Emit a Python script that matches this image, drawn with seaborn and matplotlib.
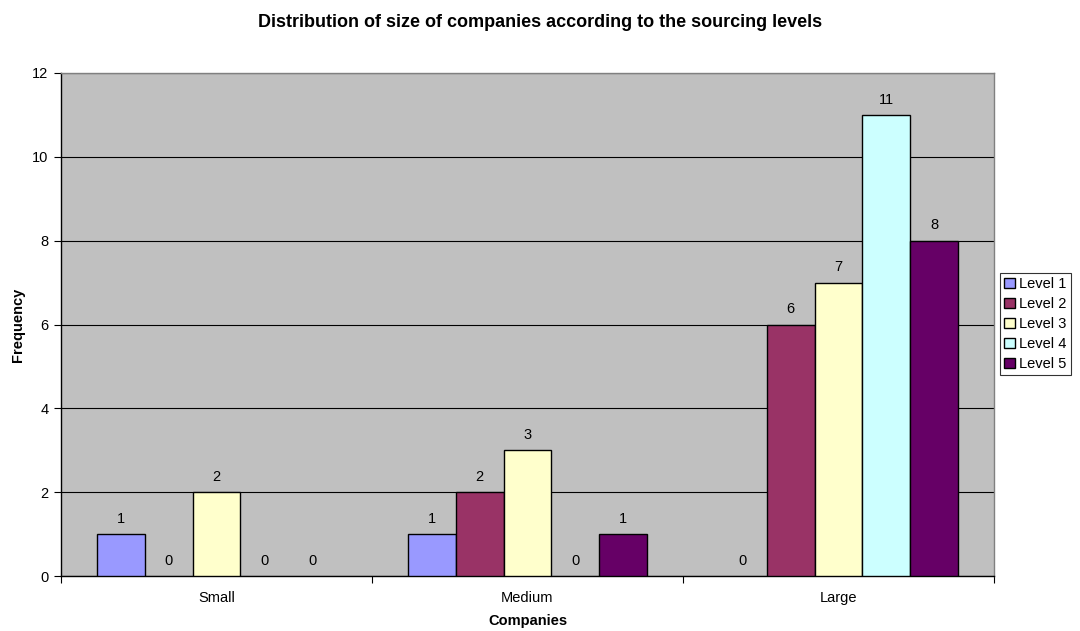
import matplotlib
matplotlib.use("Agg")
import matplotlib.pyplot as plt
import seaborn as sns
import pandas as pd
from matplotlib.ticker import FixedLocator

# Company sizes and counts per sourcing level
companies = ["Small", "Medium", "Large"]
levels = ["Level 1", "Level 2", "Level 3", "Level 4", "Level 5"]
level1 = [1, 1, 0]
level2 = [0, 2, 6]
level3 = [2, 3, 7]
level4 = [0, 0, 11]
level5 = [0, 1, 8]
level_colors = ["#9999FF", "#993366", "#FFFFCC", "#CCFFFF", "#660066"]
y_ticks = [0, 2, 4, 6, 8, 10, 12]

series = [level1, level2, level3, level4, level5]
df = pd.DataFrame({
    "Companies": [c for _ in levels for c in companies],
    "Level": [lv for lv in levels for _ in companies],
    "Frequency": [v for s in series for v in s],
})

sns.set_theme(style="white")
plt.rcParams["font.family"] = ["Liberation Sans", "DejaVu Sans"]
plt.rcParams.update({"text.color": "black", "axes.labelcolor": "black",
                     "xtick.color": "black", "ytick.color": "black"})

fig = plt.figure(figsize=(10.8, 6.31), dpi=100)
ax = fig.add_axes([61 / 1080, 1 - 576 / 631, 933 / 1080, 503 / 631])
ax.set_facecolor("#C0C0C0")

sns.barplot(data=df, x="Companies", y="Frequency", hue="Level",
            order=companies, hue_order=levels, palette=level_colors,
            width=0.77, gap=0, edgecolor="black", linewidth=1.0,
            saturation=1, ax=ax, zorder=3, legend=True)

for cont in ax.containers:
    for b in cont:
        if b.get_height() == 0:
            b.set_linewidth(0)
    ax.bar_label(cont, labels=[f"{int(b.get_height())}" for b in cont],
                 padding=6, fontsize=10.5, color="black")

ax.set_ylim(0, 12)
ax.set_xlim(-0.5, 2.5)
ax.yaxis.set_major_locator(FixedLocator(y_ticks))
ax.grid(axis="y", color="black", linewidth=0.8, zorder=1)
ax.set_axisbelow(True)

# category boundary ticks on the x axis
ax.xaxis.set_minor_locator(FixedLocator([-0.5, 0.5, 1.5, 2.5]))
ax.tick_params(axis="x", which="major", length=0, pad=11, labelsize=10.5,
               labelcolor="black")
ax.tick_params(axis="x", which="minor", length=5, width=0.8, color="black",
               bottom=True, direction="out")
ax.tick_params(axis="y", length=5, width=0.8, color="black", left=True,
               direction="out", labelsize=10.5, pad=4, labelcolor="black")

for side in ["top", "right"]:
    ax.spines[side].set_color("#808080")
    ax.spines[side].set_linewidth(1.0)
for side in ["left", "bottom"]:
    ax.spines[side].set_color("black")
    ax.spines[side].set_linewidth(1.0)

ax.set_xlabel("Companies", fontsize=10.5, fontweight="bold", labelpad=6,
              color="black")
ax.set_ylabel("Frequency", fontsize=10.5, fontweight="bold", labelpad=5,
              color="black")
fig.suptitle("Distribution of size of companies according to the sourcing levels",
             x=540 / 1080, y=1 - 14 / 631, fontsize=13, fontweight="bold",
             va="top", color="black")

leg = ax.legend(loc="upper left", bbox_to_anchor=(1000 / 1080, 1 - 273 / 631),
                bbox_transform=fig.transFigure, frameon=True, fancybox=False,
                edgecolor="black", fontsize=10.5, handlelength=0.7, handleheight=0.7,
                handletextpad=0.3, borderpad=0.3, labelspacing=0.4,
                borderaxespad=0)
leg.get_frame().set_linewidth(0.8)
for t in leg.get_texts():
    t.set_color("black")

fig.savefig("out.png", dpi=100, facecolor="white")
